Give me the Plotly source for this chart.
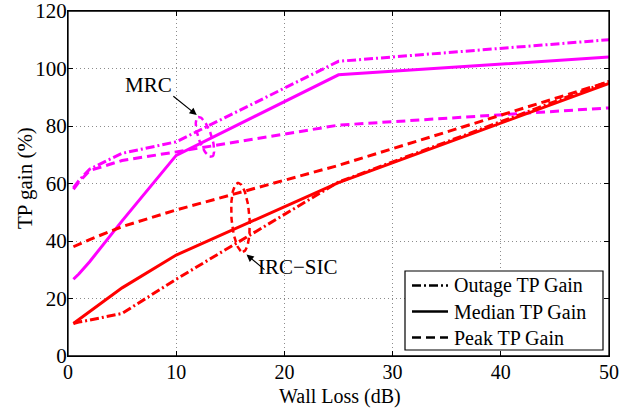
import numpy as np
import plotly.graph_objects as go

# ---------------- data ----------------
wall_loss = [0.5, 1, 2, 5, 10, 25, 50]
mrc_outage = [58.5, 61.0, 65.0, 70.5, 74.5, 102.5, 110.0]
mrc_median = [26.7, 28.5, 32.8, 47.0, 69.8, 97.8, 104.0]
mrc_peak = [58.0, 60.5, 64.5, 68.0, 71.0, 80.3, 86.3]
irc_outage = [11.3, 11.8, 12.5, 14.8, 26.7, 60.5, 95.5]
irc_median = [11.3, 12.7, 15.5, 23.7, 35.1, 60.3, 94.8]
irc_peak = [38.0, 38.8, 40.5, 45.0, 50.8, 66.3, 95.4]

x_ticks = [0, 10, 20, 30, 40, 50]
y_ticks = [0, 20, 40, 60, 80, 100, 120]
legend_names = ["Outage TP Gain", "Median TP Gain", "Peak TP Gain"]

# ---------------- style ----------------
MAGENTA = "#FF00FF"
RED = "#FF0000"
DASHDOT = "9px,3px,2px,3px"
DASH = "9px,5px"
FONT = "Liberation Serif"
FS = 21
LEG_FS = 20
XT_FS = 20

W, H = 641, 410
ML, MR, MT, MB = 68, 32, 11, 54
XR = [0, 50]
YR = [0, 120]
PW, PH = W - ML - MR, H - MT - MB
px_x = PW / (XR[1] - XR[0])
px_y = PH / (YR[1] - YR[0])


def paper_x(px):
    return (px - ML) / PW


def paper_y(py):
    return (H - MB - py) / PH


fig = go.Figure()

series = [
    (mrc_outage, MAGENTA, DASHDOT),
    (mrc_median, MAGENTA, "solid"),
    (mrc_peak, MAGENTA, DASH),
    (irc_outage, RED, DASHDOT),
    (irc_median, RED, "solid"),
    (irc_peak, RED, DASH),
]
for ys, col, dash in series:
    fig.add_trace(go.Scatter(x=wall_loss, y=ys, mode="lines",
                             line=dict(color=col, width=3, dash=dash),
                             showlegend=False, hoverinfo="skip"))


def ellipse(cx, cy, a_px, b_px, phi_deg, n=80):
    t = np.linspace(0, 2 * np.pi, n)
    phi = np.radians(phi_deg)
    ux, uy = np.sin(phi), np.cos(phi)
    vx, vy = np.cos(phi), -np.sin(phi)
    dx = a_px * np.cos(t) * ux + b_px * np.sin(t) * vx
    dy = a_px * np.cos(t) * uy + b_px * np.sin(t) * vy
    return cx + dx / px_x, cy - dy / px_y


ex, ey = ellipse(12.66, 76.2, 21, 6.5, 19)
fig.add_trace(go.Scatter(x=ex, y=ey, mode="lines",
                         line=dict(color=MAGENTA, width=2.5, dash="6px,4px"),
                         showlegend=False, hoverinfo="skip"))
ex, ey = ellipse(15.94, 48.2, 34.5, 9, 4)
fig.add_trace(go.Scatter(x=ex, y=ey, mode="lines",
                         line=dict(color=RED, width=2.5, dash="6px,4px"),
                         showlegend=False, hoverinfo="skip"))

# annotations
fig.add_annotation(x=11.9, y=83.8, ax=9.6, ay=90.8, xref="x", yref="y",
                   axref="x", ayref="y", text="", showarrow=True,
                   arrowhead=2, arrowsize=1.2, arrowwidth=1.2, arrowcolor="black")
fig.add_annotation(x=7.4, y=94.3, text="MRC", showarrow=False,
                   font=dict(family=FONT, size=FS, color="black"))
fig.add_annotation(x=16.5, y=35.3, ax=18.3, ay=29.6, xref="x", yref="y",
                   axref="x", ayref="y", text="", showarrow=True,
                   arrowhead=2, arrowsize=1.2, arrowwidth=1.2, arrowcolor="black")
fig.add_annotation(x=21.3, y=31.0, text="IRC\u2212SIC", showarrow=False,
                   font=dict(family=FONT, size=FS, color="black"))

# axis titles
fig.add_annotation(x=paper_x(339.5), y=paper_y(396), xref="paper", yref="paper",
                   text="Wall Loss (dB)", showarrow=False,
                   xanchor="center", yanchor="middle",
                   font=dict(family=FONT, size=XT_FS, color="black"))
fig.add_annotation(x=paper_x(25), y=paper_y(178), xref="paper", yref="paper",
                   text="TP gain (%)", showarrow=False, textangle=-90,
                   xanchor="center", yanchor="middle",
                   font=dict(family=FONT, size=FS, color="black"))

# plot frame
fig.add_shape(type="rect", xref="paper", yref="paper", x0=0, y0=0, x1=1, y1=1,
              line=dict(color="black", width=1.3), layer="above")

# manual legend (black samples)
LX0, LX1, LY0, LY1 = 405, 603, 271, 350
fig.add_shape(type="rect", xref="paper", yref="paper",
              x0=paper_x(LX0), x1=paper_x(LX1), y0=paper_y(LY1), y1=paper_y(LY0),
              line=dict(color="black", width=1.2), fillcolor="white", layer="above")
row_y = [285.5, 311.5, 337.5]
for name, dash, ry in zip(legend_names, [DASHDOT, "solid", DASH], row_y):
    fig.add_shape(type="line", xref="paper", yref="paper",
                  x0=paper_x(412), x1=paper_x(448), y0=paper_y(ry), y1=paper_y(ry),
                  line=dict(color="black", width=2.5, dash=dash), layer="above")
    fig.add_annotation(x=paper_x(452), y=paper_y(ry), xref="paper", yref="paper",
                       text=name, showarrow=False, xanchor="left", yanchor="middle",
                       font=dict(family=FONT, size=LEG_FS, color="black"))

axis_common = dict(
    showline=True, linecolor="black", linewidth=1.3, mirror="ticks",
    ticks="inside", ticklen=5, tickcolor="black",
    showgrid=True, gridcolor="rgb(140,140,140)", griddash="1px,3px", gridwidth=1,
    zeroline=False, automargin=False, ticklabeloverflow="allow",
)

fig.update_layout(
    width=W, height=H,
    margin=dict(l=ML, r=MR, t=MT, b=MB, autoexpand=False),
    paper_bgcolor="white", plot_bgcolor="white",
    font=dict(family=FONT, size=FS, color="black"),
    xaxis=dict(range=XR, tickvals=x_ticks, ticklabelstandoff=-2,
               tickfont=dict(family=FONT, size=XT_FS, color="black"),
               **axis_common),
    yaxis=dict(range=YR, tickvals=y_ticks, ticklabelstandoff=-4,
               tickfont=dict(family=FONT, size=FS, color="black"),
               **axis_common),
    showlegend=False,
)

fig.write_html("out.html", config={"displayModeBar": False},
               post_script="document.body.style.margin='0px';document.body.style.padding='0px';")
